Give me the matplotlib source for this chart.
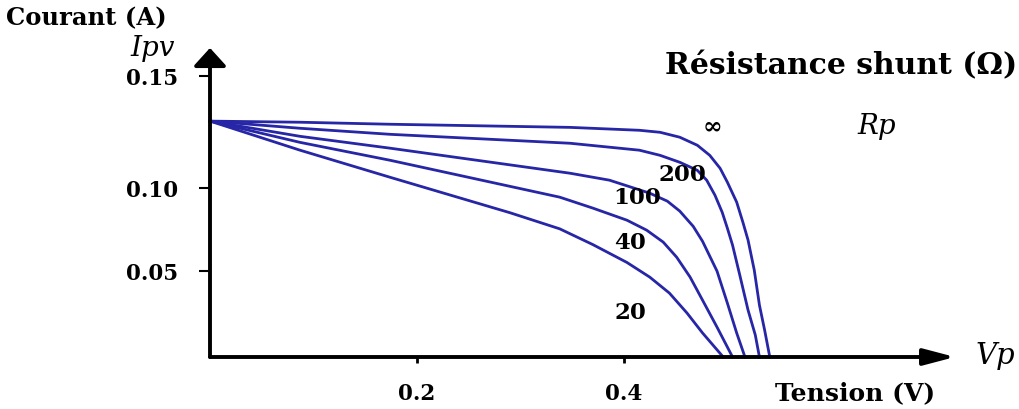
import numpy as np
import matplotlib
matplotlib.use("Agg")
import matplotlib.pyplot as plt

# I-V curves of a PV cell for several shunt resistances Rp
v_inf = [0, 0.087, 0.174, 0.348, 0.415, 0.435, 0.454, 0.471, 0.483, 0.493, 0.500,
         0.509, 0.515, 0.520, 0.526, 0.531, 0.536, 0.541]
i_inf = [0.130, 0.1295, 0.1286, 0.1272, 0.1259, 0.1250, 0.1228, 0.1192, 0.1147, 0.1089,
         0.1027, 0.0916, 0.0795, 0.0687, 0.0506, 0.0302, 0.0157, 0]

v_200 = [0, 0.087, 0.174, 0.348, 0.415, 0.435, 0.454, 0.471, 0.480, 0.488, 0.495,
         0.500, 0.505, 0.512, 0.520, 0.527, 0.531]
i_200 = [0.130, 0.1268, 0.1241, 0.1201, 0.1170, 0.1147, 0.1116, 0.1080, 0.1036, 0.0958,
         0.0855, 0.0759, 0.0657, 0.0477, 0.0273, 0.0128, 0]

v_100 = [0, 0.087, 0.174, 0.348, 0.386, 0.425, 0.442, 0.454, 0.467, 0.476, 0.490,
         0.500, 0.509, 0.517]
i_100 = [0.130, 0.1232, 0.1179, 0.1067, 0.1036, 0.0970, 0.0922, 0.0862, 0.0770, 0.0680,
         0.0500, 0.0314, 0.0140, 0]

v_40 = [0, 0.087, 0.174, 0.338, 0.370, 0.403, 0.422, 0.438, 0.451, 0.464, 0.476,
        0.490, 0.505]
i_40 = [0.130, 0.1205, 0.1125, 0.0946, 0.0880, 0.0807, 0.0747, 0.0675, 0.0584, 0.0465,
        0.0331, 0.0174, 0]

v_20 = [0, 0.087, 0.174, 0.290, 0.338, 0.370, 0.403, 0.425, 0.444, 0.461, 0.476, 0.496]
i_20 = [0.130, 0.1170, 0.1049, 0.0852, 0.0755, 0.0660, 0.0552, 0.0465, 0.0372, 0.0256,
        0.0140, 0]

y_ticks = [0.05, 0.10, 0.15]
y_ticklabels = ["0.05", "0.10", "0.15"]
x_ticks = [0.2, 0.4]
x_ticklabels = ["0.2", "0.4"]

# the original drawing has uneven spacing on the current axis
y_knots = [0, 0.05, 0.10, 0.15, 0.20]
h_knots = [0, 86, 169, 281, 393]


def fwd(y):
    return np.interp(y, y_knots, h_knots)


def inv(h):
    return np.interp(h, h_knots, y_knots)


W, H = 1019, 409
fig = plt.figure(figsize=(W / 100, H / 100), dpi=100)
ax = fig.add_axes([210 / W, 52 / H, 745 / W, 303 / H])
ax.set_yscale("function", functions=(fwd, inv))
ax.set_xlim(0, 0.72)
ax.set_ylim(0, 0.16)

col = "#2626a6"
for v, i in [(v_inf, i_inf), (v_200, i_200), (v_100, i_100), (v_40, i_40), (v_20, i_20)]:
    ax.plot(v, i, color=col, lw=2.0, solid_joinstyle="round", clip_on=False)

# axes drawn as arrows
for s in ax.spines.values():
    s.set_visible(False)
ax.annotate("", xy=(1, 0), xytext=(0, 0), xycoords="axes fraction",
            arrowprops=dict(arrowstyle="-|>,head_length=1.9,head_width=0.5",
                            color="k", lw=2.8, shrinkA=0, shrinkB=0))
ax.annotate("", xy=(0, 1.02), xytext=(0, 0), xycoords="axes fraction",
            arrowprops=dict(arrowstyle="-|>,head_length=1.1,head_width=1.0",
                            color="k", lw=2.8, shrinkA=0, shrinkB=0))

tick_font = dict(family="DejaVu Serif", weight="bold", size=15.5)
ax.set_yticks(y_ticks)
ax.set_yticklabels(y_ticklabels, **tick_font)
ax.set_xticks(x_ticks)
ax.set_xticklabels(x_ticklabels, **tick_font)
ax.tick_params(axis="y", direction="out", length=8, width=1.5, pad=15)
ax.tick_params(axis="x", direction="out", length=4, width=2, pad=15)
ax.set_yticks([], minor=True)


def ftext(x, y, s, **kw):
    fig.text(x / W, 1 - y / H, s, va="center", **kw)


bold = dict(family="DejaVu Serif", weight="bold")
ital = dict(family="DejaVu Serif", style="italic")
ftext(6, 18, "Courant (A)", ha="left", size=17.5, **bold)
ftext(153, 48, "Ipv", ha="center", size=20, **ital)
ftext(1017, 66, "Résistance shunt (Ω)", ha="right", size=21.5, **bold)
ftext(712, 127, "∞", ha="center", size=17, **bold)
ftext(877, 126, "Rp", ha="center", size=20, **ital)
ftext(682, 175, "200", ha="center", size=16.5, **bold)
ftext(637, 198, "100", ha="center", size=16.5, **bold)
ftext(630, 243, "40", ha="center", size=16.5, **bold)
ftext(630, 313, "20", ha="center", size=16.5, **bold)
ftext(995, 356, "Vp", ha="center", size=21, **ital)
ftext(855, 393, "Tension (V)", ha="center", size=18, **bold)

fig.savefig("out.png", dpi=100)
